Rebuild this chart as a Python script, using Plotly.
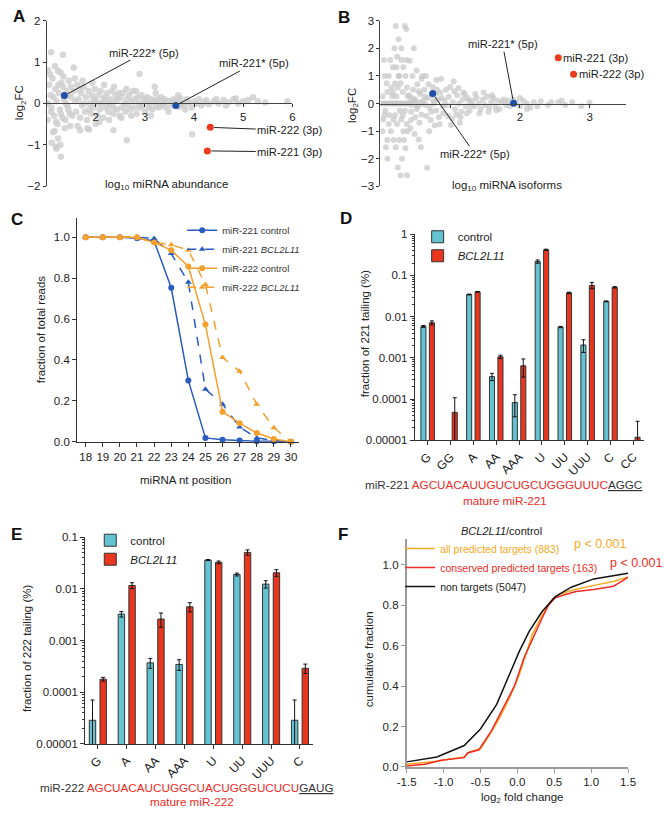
import plotly.graph_objects as go

W, H = 664, 814
def fx(p): return p / W
def fy(p): return 1 - p / H
def dom_x(a, b): return [fx(a), fx(b)]
def dom_y(top, bottom): return [fy(bottom), fy(top)]

FONT = "Liberation Sans, Arial, sans-serif"
TXT = "#222222"
FS = 11.5

# ---------------- Panel A data ----------------
a_grey_x = [1.05,1.08,1.1,1.12,1.15,1.18,1.2,1.22,1.25,1.27,1.3,1.32,1.35,1.37,1.4,1.42,1.45,1.47,1.5,1.02,1.07,1.13,1.17,1.23,1.28,1.33,1.38,1.43,1.48,1.03,1.09,1.14,1.19,1.24,1.29,1.34,1.39,1.44,1.49,
            1.09,1.33,1.55,1.03,1.23,2.89,1.29,1.19,1.28,1.16,1.68,1.86,2.36,2.63,3.96,2.0,1.1,1.2,
            1.52,1.55,1.58,1.6,1.62,1.65,1.68,1.7,1.72,1.75,1.78,1.8,1.82,1.85,1.88,1.9,1.92,1.95,1.98,2.0,2.03,2.05,2.08,2.1,2.13,2.15,2.18,2.2,2.23,2.25,2.28,2.3,2.33,2.35,2.38,2.4,2.43,2.45,2.48,1.57,1.63,1.73,1.83,1.93,2.07,2.17,2.27,2.37,2.47,1.66,1.76,1.86,1.96,2.06,2.16,2.26,2.36,
            2.5,2.53,2.55,2.58,2.6,2.63,2.65,2.68,2.7,2.73,2.75,2.78,2.8,2.83,2.85,2.88,2.9,2.93,2.95,2.98,3.0,3.03,3.05,3.08,3.1,3.13,3.15,3.18,3.2,3.23,3.25,3.28,3.3,3.33,3.35,3.38,3.4,3.43,3.45,3.48,2.52,2.62,2.72,2.82,3.12,3.22,
            3.52,3.55,3.58,3.6,3.65,3.7,3.72,3.75,3.8,3.85,3.9,3.95,4.0,4.05,4.1,4.15,4.2,4.25,4.3,4.4,4.45,4.5,3.68,3.82,
            4.6,4.7,4.8,4.9,5.0,5.1,5.2,5.3,5.45,5.9,4.65,4.85]
a_grey_y = [0.45,0.2,-0.1,0.6,-0.3,0.35,0.05,-0.5,0.25,-0.15,0.5,-0.35,0.1,-0.6,0.3,-0.05,0.55,-0.25,0.15,-0.4,0.7,-0.7,0.9,-0.85,0.75,0.4,-0.4,0.2,-0.55,0.0,-0.2,0.15,-0.45,0.45,-0.25,0.65,0.0,-0.15,0.4,
            1.24,1.18,0.87,0.8,0.79,0.71,-1.29,-1.05,-1.0,-0.67,-0.65,-0.63,-0.65,-0.89,-0.75,-0.5,-0.95,-1.1,
            -0.3,0.3,0.05,-0.2,0.45,0.1,-0.35,0.25,-0.05,0.4,-0.2,0.15,-0.4,0.3,0.0,-0.25,0.2,-0.1,0.35,0.05,-0.3,0.2,-0.15,0.3,0.0,-0.35,0.15,-0.1,0.25,-0.2,0.1,-0.05,0.3,-0.25,0.05,0.2,-0.15,0.1,-0.3,0.6,-0.55,0.55,-0.6,0.5,-0.45,0.45,-0.4,0.4,0.25,0.35,0.0,-0.15,0.1,0.0,0.1,0.0,-0.1,
            0.15,-0.1,0.25,0.0,-0.2,0.1,-0.05,0.2,-0.15,0.05,0.3,-0.1,0.1,-0.25,0.15,0.0,-0.1,0.2,-0.05,0.1,-0.2,0.05,0.15,-0.1,0.0,0.1,-0.15,0.05,0.4,-0.05,0.1,-0.1,0.05,0.15,-0.05,0.0,0.1,-0.1,0.05,-0.2,-0.35,0.35,-0.3,0.3,-0.3,0.25,
            0.05,-0.05,0.1,0.0,0.08,-0.08,0.12,0.0,-0.05,0.1,0.02,-0.1,0.05,0.0,0.1,-0.05,0.03,0.08,-0.02,0.05,0.1,0.0,0.2,-0.15,
            0.08,0.02,0.1,0.0,0.05,0.08,0.15,0.05,0.02,0.05,-0.05,0.12]
a_hl_names = ["miR-222* (5p)", "miR-221* (5p)", "miR-222 (3p)", "miR-221 (3p)"]
a_hl_x = [1.36, 3.63, 4.33, 4.27]
a_hl_y = [0.19, -0.05, -0.58, -1.15]
a_hl_col = ["#1f4fa8", "#1f4fa8", "#ec3a1f", "#ec3a1f"]
a_lab_off = [(80, -43), (78, -42), (80, 3), (83, 1)]

# ---------------- Panel B data ----------------
b_grey_x = [0.02,0.05,0.08,0.11,0.14,0.17,0.2,0.03,0.07,0.1,0.13,0.16,0.04,0.09,0.12,0.06,0.15,0.18,0.05,0.1,0.14,0.08,0.19,0.17,0.03,0.12,0.19,0.1,0.06,0.18,
            0.22,0.25,0.28,0.31,0.34,0.37,0.4,0.22,0.35,0.37,0.26,0.3,0.24,0.3,0.37,0.23,0.33,0.27,0.36,0.21,0.29,0.38,0.25,0.32,0.39,0.23,0.28,0.35,0.21,0.3,0.38,0.24,0.33,0.27,0.36,0.22,0.31,0.25,0.38,0.29,0.34,0.39,0.26,0.32,0.2,
            0.42,0.45,0.48,0.51,0.54,0.57,0.6,0.41,0.44,0.47,0.5,0.53,0.56,0.59,0.43,0.46,0.49,0.52,0.55,0.48,0.42,0.58,0.6,0.45,0.52,0.57,0.5,0.55,0.44,0.59,
            0.62,0.65,0.68,0.71,0.74,0.77,0.8,0.83,0.86,0.89,0.63,0.66,0.69,0.72,0.75,0.78,0.81,0.84,0.87,0.9,0.67,0.65,0.7,0.8,0.85,0.64,0.73,0.79,0.88,0.76,
            0.92,0.95,0.98,1.01,1.04,1.07,1.1,1.13,1.16,1.19,1.22,1.25,1.28,0.94,0.97,1.0,1.03,1.06,1.09,1.12,1.15,1.18,1.21,1.24,1.27,1.3,1.05,1.14,
            1.32,1.35,1.38,1.41,1.44,1.47,1.5,1.53,1.56,1.59,1.62,1.65,1.68,1.71,1.74,1.77,1.8,1.36,1.42,1.48,1.55,1.6,1.66,
            1.83,1.86,1.95,2.0,2.05,2.1,2.15,2.2,2.3,2.4,2.45,2.0,2.1,1.9,2.25,
            2.55,2.65,2.75,2.88,3.0,2.6]
b_grey_y = [0,0,0,0,0,0,0,0.26,-0.26,0.42,-0.42,0.58,-0.58,0.74,-0.74,1.0,-1.0,1.32,1.58,-1.32,1.58,-1.58,-0.58,0.26,-1.0,1.0,-1.32,-2.0,-0.42,0.42,
            0,0,0,0,0,0,0,2.81,2.81,2.7,2.33,2.0,1.7,1.58,1.58,1.32,1.32,1.0,1.0,0.74,0.74,0.58,0.58,0.42,0.26,0.26,-0.26,-0.26,-0.42,-0.58,-0.74,-0.74,-1.0,-1.32,-1.62,-1.58,-2.0,-2.32,-2.6,-2.6,-1.32,-1.0,1.0,-0.42,2.0,
            0.05,-0.05,0.1,0,-0.1,0.05,0,0.3,-0.3,0.5,-0.5,0.7,-0.7,0.9,-0.9,1.0,-1.1,1.2,-1.3,2.0,1.55,-1.58,1.0,0.2,-0.2,0.35,0.15,0.45,-0.6,-0.4,
            0.1,-0.05,0.2,-0.15,0.3,0,-0.25,0.15,0.4,-0.1,0.5,-0.45,0.7,-0.6,0.6,-0.8,0.5,-0.5,0.9,-0.35,-2.33,1.0,-1.0,0.85,-0.75,0.25,-0.3,0.35,0.2,0.1,
            0.1,-0.05,0.25,-0.78,0.05,-0.2,0.3,0,-0.3,0.4,-0.1,0.2,-0.25,0.5,-0.45,0.6,-0.55,0.45,-0.4,0.55,-0.5,0.15,0.35,-0.35,0.1,-0.05,0.8,-0.7,
            0.1,-0.1,0.2,0,-0.2,0.15,-0.05,0.25,-0.15,0.05,0.2,-0.1,0.1,-0.2,0.05,0.15,-0.05,0.35,-0.35,0.4,-0.3,0.3,-0.25,
            0.1,-0.1,0.05,-0.1,0.1,0,-0.15,0.05,0.08,-0.05,0.05,0.2,-0.2,0.15,-0.1,
            0.05,-0.05,0.05,-0.1,0.03,0.1]
b_hl_names = ["miR-222* (5p)", "miR-221* (5p)", "miR-221 (3p)", "miR-222 (3p)"]
b_hl_x = [0.75, 1.91, 2.55, 2.77]
b_hl_y = [0.36, 0.01, 1.66, 1.06]
b_hl_col = ["#1f4fa8", "#1f4fa8", "#ec3a1f", "#ec3a1f"]

# ---------------- Panel C data ----------------
c_pos = [18, 19, 20, 21, 22, 23, 24, 25, 26, 27, 28, 29, 30]
c_221_ctrl = [1.0, 1.0, 1.0, 0.995, 0.982, 0.753, 0.30, 0.019, 0.010, 0.006, 0.002, 0.002, 0.0]
c_221_bcl = [1.0, 1.0, 1.0, 1.0, 0.994, 0.92, 0.78, 0.257, 0.184, 0.072, 0.019, 0.006, 0.0]
c_222_ctrl = [1.0, 1.0, 1.0, 1.0, 0.974, 0.937, 0.857, 0.573, 0.147, 0.091, 0.043, 0.014, 0.0]
c_222_bcl = [1.0, 1.0, 1.0, 1.0, 0.974, 0.963, 0.937, 0.769, 0.412, 0.345, 0.184, 0.069, 0.0]

# ---------------- Panel D data ----------------
d_cats = ["G", "GG", "A", "AA", "AAA", "U", "UU", "UUU", "C", "CC"]
d_ctrl = [0.0058, None, 0.0345, 0.00035, 0.000082, 0.218, 0.0056, 0.00205, 0.0235, None]
d_ctrl_err = [0.0003, 0, 0.0008, 0.00007, 0.000045, 0.02, 0.0002, 0.0007, 0.0006, 0]
d_bcl = [0.0071, 0.0000475, 0.040, 0.00106, 0.00064, 0.42, 0.0378, 0.0577, 0.0516, 0.0000118]
d_bcl_err = [0.0008, 0.00006, 0.0008, 0.0001, 0.0003, 0.015, 0.0015, 0.01, 0.002, 0.000017]

# ---------------- Panel E data ----------------
e_cats = ["G", "A", "AA", "AAA", "U", "UU", "UUU", "C"]
e_ctrl = [2.87e-5, 0.00324, 0.00037, 0.000345, 0.0359, 0.0189, 0.0123, 2.87e-5]
e_ctrl_err = [4.2e-5, 0.0004, 0.00008, 0.00008, 0.0008, 0.0012, 0.002, 4.2e-5]
e_bcl = [1.79e-4, 0.0116, 0.0026, 0.00448, 0.0324, 0.0505, 0.0204, 2.9e-4]
e_bcl_err = [1.5e-5, 0.0015, 0.0008, 0.0009, 0.002, 0.006, 0.003, 6e-5]

# ---------------- Panel F data ----------------
f_non_x = [-1.5, -1.09, -0.72, -0.5, -0.28, -0.105, 0.026, 0.158, 0.333, 0.51, 0.73, 1.035, 1.25, 1.5]
f_non_y = [0.025, 0.049, 0.106, 0.188, 0.31, 0.457, 0.572, 0.67, 0.768, 0.842, 0.89, 0.931, 0.944, 0.959]
f_all_x = [-1.5, -1.16, -0.98, -0.72, -0.65, -0.5, -0.37, -0.237, -0.105, 0.026, 0.114, 0.2, 0.333, 0.465, 0.553, 0.728, 1.035, 1.3, 1.5]
f_all_y = [0.013, 0.025, 0.036, 0.049, 0.074, 0.09, 0.163, 0.245, 0.343, 0.457, 0.556, 0.654, 0.75, 0.825, 0.853, 0.874, 0.899, 0.918, 0.94]
f_con_x = [-1.5, -1.25, -1.03, -0.72, -0.675, -0.52, -0.35, -0.19, -0.04, 0.09, 0.158, 0.224, 0.333, 0.42, 0.51, 0.64, 0.794, 1.035, 1.3, 1.43, 1.5]
f_con_y = [0.005, 0.013, 0.033, 0.046, 0.069, 0.085, 0.18, 0.294, 0.40, 0.54, 0.596, 0.645, 0.735, 0.80, 0.837, 0.853, 0.869, 0.879, 0.895, 0.923, 0.94]

BLUE_C = "#2a5bbf"
ORANGE_C = "#f5a02d"
CYAN = "#63c3d2"
RED_BAR = "#e8361f"
SEQ_RED = "#ee2a24"
F_ORANGE = "#f7a823"
F_RED = "#ee2b24"

fig = go.Figure()

# ---- A ----
fig.add_trace(go.Scatter(x=a_grey_x, y=a_grey_y, mode="markers", xaxis="x", yaxis="y",
                         marker=dict(size=6.5, color="rgba(205,205,205,0.8)"), showlegend=False))
fig.add_trace(go.Scatter(x=a_hl_x, y=a_hl_y, mode="markers", xaxis="x", yaxis="y",
                         marker=dict(size=7, color=a_hl_col), showlegend=False))
# ---- B ----
fig.add_trace(go.Scatter(x=b_grey_x, y=b_grey_y, mode="markers", xaxis="x2", yaxis="y2",
                         marker=dict(size=6, color="rgba(198,198,198,0.7)"), showlegend=False))
fig.add_trace(go.Scatter(x=b_hl_x, y=b_hl_y, mode="markers", xaxis="x2", yaxis="y2",
                         marker=dict(size=7, color=b_hl_col), showlegend=False))
# ---- C ----
c_series = [
    ("miR-221 control", c_221_ctrl, BLUE_C, "solid", "circle"),
    ("miR-221 <i>BCL2L11</i>", c_221_bcl, BLUE_C, "dash", "triangle-up"),
    ("miR-222 control", c_222_ctrl, ORANGE_C, "solid", "circle"),
    ("miR-222 <i>BCL2L11</i>", c_222_bcl, ORANGE_C, "dash", "triangle-up"),
]
for name, vals, col, dash, sym in c_series:
    fig.add_trace(go.Scatter(x=c_pos, y=vals, mode="lines+markers", name=name, xaxis="x3", yaxis="y3",
                             line=dict(color=col, width=1.5, dash=dash),
                             marker=dict(symbol=sym, size=6, color=col), cliponaxis=False, legend="legend"))
# ---- D ----
fig.add_trace(go.Bar(x=d_cats, y=d_ctrl, name="control", xaxis="x4", yaxis="y4",
                     marker=dict(color=CYAN, line=dict(color="#333", width=1)),
                     error_y=dict(type="data", array=d_ctrl_err, color="#111", thickness=1, width=2),
                     legend="legend2"))
fig.add_trace(go.Bar(x=d_cats, y=d_bcl, name="<i>BCL2L11</i>", xaxis="x4", yaxis="y4",
                     marker=dict(color=RED_BAR, line=dict(color="#333", width=1)),
                     error_y=dict(type="data", array=d_bcl_err, color="#111", thickness=1, width=2),
                     legend="legend2"))
# ---- E ----
fig.add_trace(go.Bar(x=e_cats, y=e_ctrl, name="control", xaxis="x5", yaxis="y5",
                     marker=dict(color=CYAN, line=dict(color="#333", width=1)),
                     error_y=dict(type="data", array=e_ctrl_err, color="#111", thickness=1, width=2),
                     legend="legend3"))
fig.add_trace(go.Bar(x=e_cats, y=e_bcl, name="<i>BCL2L11</i>", xaxis="x5", yaxis="y5",
                     marker=dict(color=RED_BAR, line=dict(color="#333", width=1)),
                     error_y=dict(type="data", array=e_bcl_err, color="#111", thickness=1, width=2),
                     legend="legend3"))
# ---- F ----
fig.add_trace(go.Scatter(x=f_all_x, y=f_all_y, mode="lines", xaxis="x6", yaxis="y6",
                         name=f"<span style='color:{F_ORANGE}'>all predicted targets (883)</span>",
                         line=dict(color=F_ORANGE, width=1.5), legend="legend4"))
fig.add_trace(go.Scatter(x=f_con_x, y=f_con_y, mode="lines", xaxis="x6", yaxis="y6",
                         name=f"<span style='color:{F_RED}'>conserved predicted targets (163)</span>",
                         line=dict(color=F_RED, width=1.5), legend="legend4"))
fig.add_trace(go.Scatter(x=f_non_x, y=f_non_y, mode="lines", xaxis="x6", yaxis="y6",
                         name="non targets (5047)",
                         line=dict(color="#111", width=1.5), legend="legend4"))

def ax(**kw):
    base = dict(showgrid=False, zeroline=False, showline=True, linecolor="#333", linewidth=1,
                ticks="outside", ticklen=4, tickwidth=1, tickcolor="#333",
                tickfont=dict(size=FS, color=TXT, family=FONT))
    base.update(kw)
    return base

layout = dict(
    width=W, height=H, margin=dict(l=0, r=0, t=0, b=0), autosize=False,
    paper_bgcolor="white", plot_bgcolor="rgba(0,0,0,0)",
    font=dict(family=FONT, color=TXT, size=FS),
    barmode="group", bargap=0.26, bargroupgap=0.4,
    # A
    xaxis=ax(domain=dom_x(37.7, 290.2), range=[1, 6], anchor="free", position=fy(98.85),
             tickvals=[2, 3, 4, 5, 6], linecolor="#444", ticklen=3),
    yaxis=ax(domain=dom_y(15, 182.7), range=[-2, 2], anchor="x", tickvals=[-2, -1, 0, 1, 2],
             linecolor="#444", ticklen=3),
    # B
    xaxis2=ax(domain=dom_x(380.7, 632.7), range=[0, 3.515], anchor="free", position=fy(99),
              tickvals=[1, 2, 3], ticktext=["", "2", "3"], linecolor="#444", ticklen=3),
    yaxis2=ax(domain=dom_y(15, 183), range=[-3, 3], anchor="x2", tickvals=[-3, -2, -1, 0, 1, 2, 3],
              linecolor="#444", ticklen=3),
    # C
    xaxis3=ax(domain=dom_x(69, 296.7), range=[17.5, 30.45], anchor="y3", tickvals=c_pos),
    yaxis3=ax(domain=dom_y(215, 442.3), range=[0, 1.095], anchor="x3",
              tickvals=[0, 0.2, 0.4, 0.6, 0.8, 1.0], ticktext=["0.0", "0.2", "0.4", "0.6", "0.8", "1.0"]),
    # D
    xaxis4=ax(domain=dom_x(416, 651.7), range=[-0.566, 9.468], anchor="y4", tickangle=-45,
              tickfont=dict(size=12, color=TXT, family=FONT)),
    yaxis4=ax(domain=dom_y(231.7, 440.7), type="log", range=[-5, 0], anchor="x4",
              tickvals=[1e-5, 1e-4, 1e-3, 1e-2, 1e-1, 1],
              ticktext=["0.00001", "0.0001", "0.001", "0.01", "0.1", "1"],
              minor=dict(ticks="outside", ticklen=2, tickcolor="#333", dtick="D1", showgrid=False)),
    # E
    xaxis5=ax(domain=dom_x(77.3, 311.7), range=[-0.438, 7.46], anchor="y5", tickangle=-45,
              tickfont=dict(size=12, color=TXT, family=FONT)),
    yaxis5=ax(domain=dom_y(539, 749), type="log", range=[-5, -1], anchor="x5",
              tickvals=[1e-5, 1e-4, 1e-3, 1e-2, 1e-1],
              ticktext=["0.00001", "0.0001", "0.001", "0.01", "0.1"],
              minor=dict(ticks="outside", ticklen=2, tickcolor="#333", dtick="D1", showgrid=False)),
    # F
    xaxis6=ax(domain=dom_x(407.7, 635.3), range=[-1.5, 1.5], anchor="y6",
              tickvals=[-1.5, -1.0, -0.5, 0, 0.5, 1.0, 1.5],
              ticktext=["-1.5", "-1.0", "-0.5", "0.0", "0.5", "1.0", "1.5"],
              linecolor="#9a9a9a", tickcolor="#9a9a9a", linewidth=1.5),
    yaxis6=ax(domain=dom_y(540.7, 772.3), range=[0, 1.13], anchor="x6",
              tickvals=[0, 0.2, 0.4, 0.6, 0.8, 1.0], ticktext=["0.0", "0.2", "0.4", "0.6", "0.8", "1.0"],
              linecolor="#9a9a9a", tickcolor="#9a9a9a", linewidth=1.5),
    legend=dict(x=fx(177), y=fy(213), xanchor="left", yanchor="top", bgcolor="rgba(0,0,0,0)",
                font=dict(size=9.5, color="#333", family=FONT), itemwidth=30, tracegroupgap=0),
    legend2=dict(x=fx(419), y=fy(219.5), xanchor="left", yanchor="top", bgcolor="rgba(0,0,0,0)",
                 font=dict(size=FS, color=TXT, family=FONT)),
    legend3=dict(x=fx(82.5), y=fy(527.5), xanchor="left", yanchor="top", bgcolor="rgba(0,0,0,0)",
                 font=dict(size=FS, color=TXT, family=FONT)),
    legend4=dict(x=fx(401), y=fy(536), xanchor="left", yanchor="top", bgcolor="rgba(0,0,0,0)",
                 font=dict(size=10.5, color=TXT, family=FONT), itemwidth=30),
)
fig.update_layout(**layout)

ann = []
def note(text, x, y, size=FS, color=TXT, angle=0, **kw):
    d = dict(text=text, x=fx(x), y=fy(y), xref="paper", yref="paper", showarrow=False,
             font=dict(size=size, color=color, family=FONT), textangle=angle,
             xanchor="center", yanchor="middle")
    d.update(kw)
    ann.append(d)

# panel letters
for letter, (lx, ly) in {"A": (9, 11), "B": (343, 12), "C": (7, 217), "D": (345, 216),
                         "E": (7, 536), "F": (342, 536)}.items():
    note(f"<b>{letter}</b>", lx, ly, size=17, color="#111")

# axis titles
note("log<sub>10</sub> miRNA abundance", 161, 182)
note("log<sub>2</sub>FC", 10, 98, angle=-90)
note("log<sub>10</sub> miRNA isoforms", 511, 183)
note("log<sub>2</sub>FC", 352, 101, angle=-90)
note("miRNA nt position", 180, 481)
note("fraction of total reads", 32, 328, angle=-90)
note("fraction of 221 tailing (%)", 365, 333, angle=-90)
note("fraction of 222 tailing (%)", 18, 652, angle=-90)
note("cumulative fraction", 369, 663, angle=-90)
note("log<sub>2</sub> fold change", 527, 804)

# sequences
note(f"miR-221 <span style='color:{SEQ_RED}'>AGCUACAUUGUCUGCUGGGUUUC</span><u>AGGC</u>", 507.7, 486, size=11.7, color="#333")
note("mature miR-221", 509, 502, size=11.7, color=SEQ_RED)
note(f"miR-222 <span style='color:{SEQ_RED}'>AGCUACAUCUGGCUACUGGGUCUCU</span><u>GAUG</u>", 182, 793, size=11.7, color="#333")
note("mature miR-222", 187, 807, size=11.7, color=SEQ_RED)

# F header and p values
note("<i>BCL2L11</i>/control", 505, 533, size=11)
note("p &lt; 0.001", 578, 546, size=12.5, color=F_ORANGE, xanchor="left")
note("p &lt; 0.001", 615, 565, size=12.5, color=F_RED, xanchor="left")

# A labels with leader lines
for name, x, y, (ox, oy) in zip(a_hl_names, a_hl_x, a_hl_y, a_lab_off):
    ann.append(dict(text=name, x=x, y=y, xref="x", yref="y", showarrow=True, arrowhead=0,
                    arrowwidth=1, arrowcolor="#222", ax=ox, ay=oy, standoff=4,
                    font=dict(size=11.2, color=TXT, family=FONT)))
# B labels
b_offsets = {"miR-222* (5p)": (42, 60), "miR-221* (5p)": (-11, -59)}
for name, x, y in zip(b_hl_names, b_hl_x, b_hl_y):
    if name in b_offsets:
        ox, oy = b_offsets[name]
        ann.append(dict(text=name, x=x, y=y, xref="x2", yref="y2", showarrow=True, arrowhead=0,
                        arrowwidth=1, arrowcolor="#222", ax=ox, ay=oy, standoff=4,
                        font=dict(size=11.2, color=TXT, family=FONT)))
    else:
        ann.append(dict(text=name, x=x, y=y, xref="x2", yref="y2", showarrow=False,
                        xanchor="left", yanchor="middle", xshift=3,
                        font=dict(size=11.2, color=TXT, family=FONT)))

fig.update_layout(annotations=ann)
fig.write_html("out.html", config={"displayModeBar": False},
               post_script="document.body.style.margin='0';document.body.style.padding='0';")
